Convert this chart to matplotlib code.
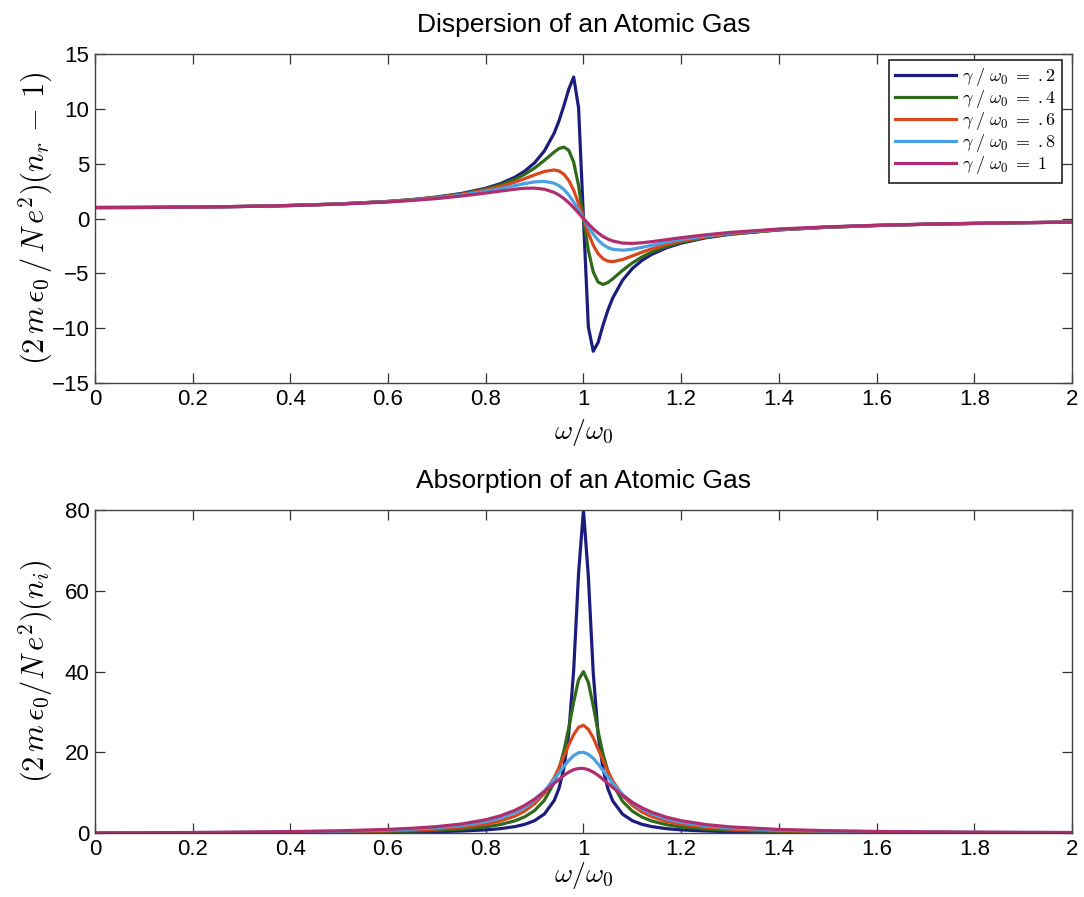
import matplotlib
matplotlib.use("Agg")
import matplotlib.pyplot as plt

plt.rcParams["font.family"] = ["Liberation Sans", "DejaVu Sans"]
plt.rcParams["mathtext.fontset"] = "cm"
plt.rcParams["axes.unicode_minus"] = True

# normalised frequency w/w0
omega = [0, 0.1, 0.2, 0.3, 0.4, 0.5, 0.6, 0.65, 0.7, 0.75,
         0.8, 0.83, 0.86, 0.88, 0.9, 0.92, 0.94, 0.95, 0.96, 0.97,
         0.98, 0.99, 1.0, 1.01, 1.02, 1.03, 1.04, 1.05, 1.06, 1.08,
         1.1, 1.12, 1.14, 1.17, 1.2, 1.25, 1.3, 1.4, 1.5, 1.6,
         1.7, 1.8, 1.9, 2.0]

damping_labels = [r"$\gamma\;/\;\omega_0\;=\;.2$", r"$\gamma\;/\;\omega_0\;=\;.4$",
                  r"$\gamma\;/\;\omega_0\;=\;.6$", r"$\gamma\;/\;\omega_0\;=\;.8$",
                  r"$\gamma\;/\;\omega_0\;=\;1$"]

# real part of the index, (2 m eps0 / N e^2)(n_r - 1)
disp_02 = [1.0, 1.01, 1.04, 1.10, 1.19, 1.33, 1.56, 1.73, 1.96, 2.28,
           2.76, 3.18, 3.77, 4.33, 5.08, 6.16, 7.78, 8.91, 10.3, 11.8,
           12.9, 10.1, 0.0, -9.88, -12.1, -11.3, -9.73, -8.36, -7.24, -5.63,
           -4.56, -3.81, -3.26, -2.67, -2.25, -1.76, -1.44, -1.04, -0.80, -0.64,
           -0.53, -0.45, -0.38, -0.33]
disp_04 = [1.0, 1.01, 1.04, 1.10, 1.19, 1.33, 1.55, 1.72, 1.94, 2.24,
           2.69, 3.07, 3.59, 4.04, 4.60, 5.30, 6.06, 6.38, 6.51, 6.21,
           5.13, 2.99, 0.0, -2.90, -4.87, -5.80, -6.01, -5.84, -5.50, -4.73,
           -4.05, -3.50, -3.06, -2.55, -2.17, -1.72, -1.42, -1.03, -0.79, -0.64,
           -0.53, -0.45, -0.38, -0.33]
disp_06 = [1.0, 1.01, 1.04, 1.10, 1.19, 1.33, 1.54, 1.70, 1.91, 2.19,
           2.59, 2.92, 3.32, 3.64, 3.98, 4.29, 4.43, 4.33, 4.04, 3.47,
           2.57, 1.37, 0.0, -1.33, -2.43, -3.21, -3.67, -3.89, -3.93, -3.74,
           -3.41, -3.07, -2.76, -2.37, -2.05, -1.66, -1.38, -1.01, -0.78, -0.63,
           -0.52, -0.44, -0.38, -0.33]
disp_08 = [1.0, 1.01, 1.04, 1.10, 1.18, 1.32, 1.53, 1.68, 1.87, 2.13,
           2.47, 2.72, 3.00, 3.19, 3.34, 3.39, 3.22, 2.99, 2.64, 2.14,
           1.51, 0.78, 0.0, -0.76, -1.43, -1.97, -2.38, -2.65, -2.81, -2.89,
           -2.80, -2.63, -2.44, -2.16, -1.91, -1.58, -1.33, -0.99, -0.77, -0.62,
           -0.52, -0.44, -0.38, -0.33]
disp_10 = [1.0, 1.01, 1.04, 1.09, 1.18, 1.31, 1.51, 1.65, 1.82, 2.05,
           2.32, 2.50, 2.67, 2.76, 2.77, 2.67, 2.38, 2.14, 1.82, 1.44,
           0.99, 0.50, 0.0, -0.49, -0.93, -1.32, -1.64, -1.88, -2.05, -2.24,
           -2.27, -2.21, -2.11, -1.93, -1.75, -1.49, -1.27, -0.96, -0.76, -0.62,
           -0.51, -0.44, -0.38, -0.33]

# imaginary part of the index, (2 m eps0 / N e^2)(n_i)
abs_02 = [0.0, 0.013, 0.028, 0.046, 0.073, 0.114, 0.187, 0.249, 0.343, 0.499,
          0.784, 1.09, 1.60, 2.16, 3.08, 4.72, 8.04, 11.1, 16.1, 24.8,
          40.4, 64.4, 80.0, 63.6, 39.7, 24.4, 15.9, 11.0, 7.95, 4.68,
          3.06, 2.15, 1.59, 1.08, 0.784, 0.502, 0.348, 0.194, 0.123, 0.084,
          0.061, 0.046, 0.036, 0.028]
abs_04 = [0.0, 0.026, 0.056, 0.093, 0.145, 0.227, 0.373, 0.495, 0.681, 0.985,
          1.53, 2.10, 3.04, 4.03, 5.58, 8.12, 12.5, 15.9, 20.4, 26.1,
          32.5, 38.0, 40.0, 37.3, 31.5, 25.1, 19.6, 15.3, 12.1, 7.87,
          5.43, 3.94, 2.98, 2.07, 1.52, 0.980, 0.683, 0.384, 0.244, 0.167,
          0.121, 0.091, 0.071, 0.057]
abs_06 = [0.0, 0.039, 0.083, 0.139, 0.217, 0.339, 0.555, 0.735, 1.01, 1.44,
          2.21, 2.99, 4.21, 5.45, 7.24, 9.87, 13.7, 16.2, 19.0, 21.9,
          24.4, 26.2, 26.7, 25.7, 23.6, 20.8, 18.0, 15.3, 12.9, 9.32,
          6.87, 5.20, 4.04, 2.88, 2.15, 1.42, 0.998, 0.566, 0.361, 0.249,
          0.181, 0.136, 0.106, 0.085]
abs_08 = [0.0, 0.052, 0.111, 0.185, 0.289, 0.450, 0.733, 0.967, 1.32, 1.87,
          2.81, 3.71, 5.08, 6.37, 8.11, 10.4, 13.3, 14.9, 16.5, 18.0,
          19.2, 19.9, 20.0, 19.5, 18.5, 17.1, 15.5, 13.9, 12.3, 9.61,
          7.50, 5.92, 4.74, 3.50, 2.67, 1.80, 1.28, 0.738, 0.474, 0.328,
          0.239, 0.181, 0.141, 0.112]
abs_10 = [0.0, 0.065, 0.139, 0.231, 0.360, 0.559, 0.906, 1.19, 1.60, 2.24,
          3.30, 4.27, 5.65, 6.88, 8.41, 10.3, 12.3, 13.3, 14.3, 15.1,
          15.7, 16.0, 16.0, 15.7, 15.1, 14.3, 13.3, 12.3, 11.3, 9.30,
          7.61, 6.24, 5.15, 3.92, 3.06, 2.11, 1.53, 0.896, 0.581, 0.404,
          0.295, 0.224, 0.175, 0.140]

colors = ["#1c1c7c", "#2f6a1c", "#d9481c", "#4aa0e4", "#b02d6e"]
x_ticks = [0, 0.2, 0.4, 0.6, 0.8, 1.0, 1.2, 1.4, 1.6, 1.8, 2.0]
x_tick_labels = ["0", "0.2", "0.4", "0.6", "0.8", "1", "1.2", "1.4", "1.6", "1.8", "2"]

fig = plt.figure(figsize=(10.84, 8.97), dpi=100)
ax1 = fig.add_axes([0.0876, 0.573, 0.9013, 0.3668])
ax2 = fig.add_axes([0.0876, 0.0713, 0.9013, 0.360])

dispersion = [disp_02, disp_04, disp_06, disp_08, disp_10]
absorption = [abs_02, abs_04, abs_06, abs_08, abs_10]

for series, color, label in zip(dispersion, colors, damping_labels):
    ax1.plot(omega, series, color=color, lw=2.3, label=label, solid_joinstyle="round")
for series, color in zip(absorption, colors):
    ax2.plot(omega, series, color=color, lw=2.3, solid_joinstyle="round")

for ax in (ax1, ax2):
    ax.set_xlim(0, 2)
    ax.set_xticks(x_ticks)
    ax.set_xticklabels(x_tick_labels)
    ax.tick_params(direction="in", top=True, right=True, length=7, width=0.9,
                   labelsize=16, color="#333333", pad=4)
    for spine in ax.spines.values():
        spine.set_color("#444444")
        spine.set_linewidth(1.0)

ax1.set_xlabel(r"$\omega/\omega_0$", fontsize=20, labelpad=5)
ax2.set_xlabel(r"$\omega/\omega_0$", fontsize=20, labelpad=0.5)

ax1.set_ylim(-15, 15)
ax1.set_yticks([-15, -10, -5, 0, 5, 10, 15])
ax1.set_title("Dispersion of an Atomic Gas", fontsize=19, pad=16)
ax1.set_ylabel(r"$(2\,m\,\epsilon_0\,/\,N\,e^2)(n_r\,-\,1)$", fontsize=22, va="center")

ax2.set_ylim(0, 80)
ax2.set_yticks([0, 20, 40, 60, 80])
ax2.set_title("Absorption of an Atomic Gas", fontsize=19, pad=16)
ax2.set_ylabel(r"$(2\,m\,\epsilon_0/N\,e^2)(n_i)$", fontsize=22, va="center")

for ax in (ax1, ax2):
    ax.yaxis.set_label_coords(-0.061, 0.5)

leg = ax1.legend(loc="upper right", bbox_to_anchor=(1 - 10 / 977, 1 - 6 / 329),
                 borderaxespad=0, fontsize=13, frameon=True, fancybox=False,
                 framealpha=1, edgecolor="#222222", handlelength=3.4,
                 handletextpad=0.3, labelspacing=0.0, borderpad=0.35)
leg.get_frame().set_linewidth(1.2)

fig.savefig("out.png", dpi=100)
